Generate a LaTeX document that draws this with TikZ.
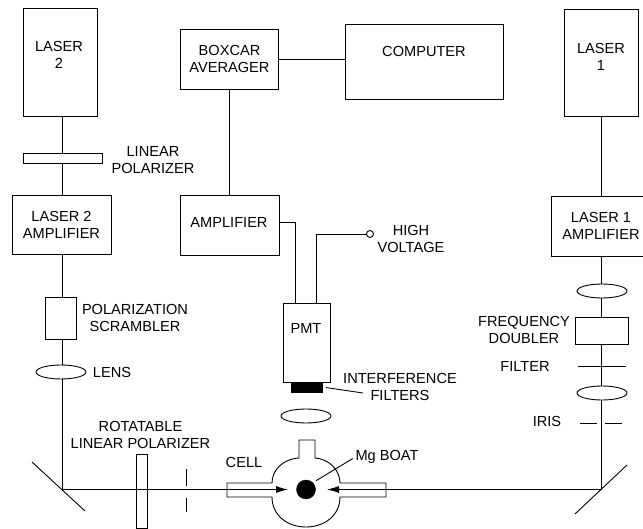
\documentclass[tikz,border=0pt]{standalone}
\usepackage{fontspec}
\setmainfont{Liberation Sans}
\usetikzlibrary{arrows.meta, shapes.geometric}
\tikzset{
  optbox/.style={draw=black, rectangle, line width=0.9pt, inner sep=0pt, align=center},
  lens/.style={draw=black, ellipse, line width=0.9pt, minimum width=50pt, minimum height=14pt, inner sep=0pt},
  lbl/.style={inner sep=0pt, align=center},
  wire/.style={line width=0.9pt, black},
  arr/.style={-{Latex[length=12pt,width=7pt]}, line width=0.9pt, black},
}
\begin{document}
\begin{tikzpicture}[x=1pt, y=-1pt, every node/.style={font=\fontsize{14.6}{17}\selectfont}]
  \useasboundingbox (0,0) rectangle (643,529);
  \clip (0,0) rectangle (643,529);

  \coordinate (beamL) at (62,489.5);
  \coordinate (beamR) at (601,489.5);

  \node[optbox, minimum width=74pt, minimum height=108pt] (laser2) at (60,62) {};
  \node[lbl] (laser2txt) at (59,55) {LASER\\2};
  \node[optbox, minimum width=79pt, minimum height=10pt] (linpol) at (62.5,158) {};
  \node[lbl] (linpoltxt) at (153,160) {LINEAR\\POLARIZER};
  \node[optbox, minimum width=99pt, minimum height=59pt] (amp2) at (61.5,224.5) {LASER 2\\AMPLIFIER};
  \node[optbox, minimum width=31pt, minimum height=42pt] (scram) at (60.5,318) {};
  \node[lbl] (scramtxt) at (135,318) {POLARIZATION\\SCRAMBLER};
  \node[lens] (lens2) at (61,372) {};
  \node[lbl] (lens2txt) at (112,372) {LENS};

  \node[optbox, minimum width=98pt, minimum height=60pt] (boxcar) at (229.5,59) {BOXCAR\\AVERAGER};
  \node[optbox, minimum width=158pt, minimum height=75pt] (computer) at (424,61.5) {};
  \node[lbl] (computertxt) at (424,51) {COMPUTER};
  \node[optbox, minimum width=99pt, minimum height=60pt] (amp) at (229.5,225) {};
  \node[lbl] (amptxt) at (229,222) {AMPLIFIER};
  \node[optbox, minimum width=47pt, minimum height=79pt] (pmt) at (306.5,342.5) {};
  \node[lbl] (pmttxt) at (306,328) {PMT};
  \node[draw=black, fill=black, rectangle, inner sep=0pt, minimum width=31pt, minimum height=10pt] (pmtfilt) at (306.5,387) {};
  \node[lbl] (pmtfilttxt) at (400,386.5) {INTERFERENCE\\FILTERS};
  \node[lens] (lens3) at (306,416) {};
  \node[draw=black, circle, line width=0.9pt, inner sep=0pt, minimum size=7pt] (hv) at (370,234) {};
  \node[lbl] (hvtxt) at (411,238.5) {HIGH\\VOLTAGE};

  \node[optbox, minimum width=74pt, minimum height=107pt] (laser1) at (601,62.5) {};
  \node[lbl] (laser1txt) at (601,56.5) {LASER\\1};
  \node[optbox, minimum width=100pt, minimum height=60pt] (amp1) at (601,226) {LASER 1\\AMPLIFIER};
  \node[lens] (lens1) at (602,291) {};
  \node[optbox, minimum width=53pt, minimum height=27pt] (doubler) at (601.5,330.5) {};
  \node[lbl] (doublertxt) at (524,330) {FREQUENCY\\DOUBLER};
  \node[lbl] (filtertxt) at (525,366) {FILTER};
  \node[lens] (lens4) at (602,393) {};
  \node[lbl] (iristxt) at (547,421) {IRIS};

  \node[optbox, minimum width=11pt, minimum height=74pt] (rotpol) at (141.5,491) {};
  \node[lbl] (rotpoltxt) at (140.5,435) {ROTATABLE\\LINEAR POLARIZER};
  \node[lbl] (celltxt) at (244,462) {CELL};
  \node[lbl] (mgtxt) at (387,457) {Mg BOAT};
  \node[draw=black, fill=black, circle, inner sep=0pt, minimum size=19pt] (boat) at (306,489.5) {};

  \coordinate (mirLa) at (32,462);
  \coordinate (mirLb) at (85,511);
  \coordinate (mirRa) at (575,514);
  \coordinate (mirRb) at (627,465);
  \coordinate (tipL) at (288,489.5);
  \coordinate (tipR) at (327,489.5);
  \coordinate (filtL) at (578,366);
  \coordinate (filtR) at (626,366);
  \coordinate (pmtleadend) at (363,393);

  \draw[wire] (beamL |- laser2.south) -- (beamL |- linpol.north);
  \draw[wire] (beamL |- linpol.south) -- (beamL |- amp2.north);
  \draw[wire] (beamL |- amp2.south) -- (beamL |- scram.north);
  \draw[wire] (beamL |- scram.south) -- (beamL |- lens2.north);
  \draw[wire] (beamL |- lens2.south) -- (beamL);
  \draw[wire] (mirLa) -- (mirLb);
  \draw[arr] (beamL) -- (tipL);
  \draw[arr] (beamR) -- (tipR);
  \draw[wire] (mirRa) -- (mirRb);

  \draw[wire] (boxcar.east) -- (computer.west |- boxcar.east);
  \draw[wire] (boxcar.south) -- (amp.north);
  \draw[wire] (amp.east |- amptxt) -| (295.5,303);
  \draw[wire] (316,303) |- (hv.west);
  \draw[wire, shorten <=4pt] (pmtfilt.east) -- (pmtleadend);

  \draw[wire] (beamR |- laser1.south) -- (beamR |- amp1.north);
  \draw[wire] (beamR |- amp1.south) -- (beamR |- lens1.north);
  \draw[wire] (beamR |- lens1.south) -- (beamR |- doubler.north);
  \draw[wire] (beamR |- doubler.south) -- (beamR |- lens4.north);
  \draw[wire] (beamR |- lens4.south) -- (beamR);
  \draw[wire] (filtL) -- (filtR);
  \draw[wire] (580,423) -- (597,423);
  \draw[wire] (605,423) -- (622,423);

  \draw[wire] (186.5,469) -- (186.5,486);
  \draw[wire] (186.5,498) -- (186.5,512);

  \draw[wire] (227,483) -- (272,483) .. controls (272,470) and (283,459) .. (299,458) -- (299,440) -- (315,440) -- (315,458)
    .. controls (329,459) and (340,470) .. (340,483) -- (386,483) -- (386,497) -- (340,497)
    .. controls (340,515) and (325,527) .. (306,527) .. controls (287,527) and (272,515) .. (272,497) -- (227,497) -- cycle;
  \draw[wire, shorten >=3pt, shorten <=3.5pt] (boat.45) -- (mgtxt.west);
\end{tikzpicture}
\end{document}
